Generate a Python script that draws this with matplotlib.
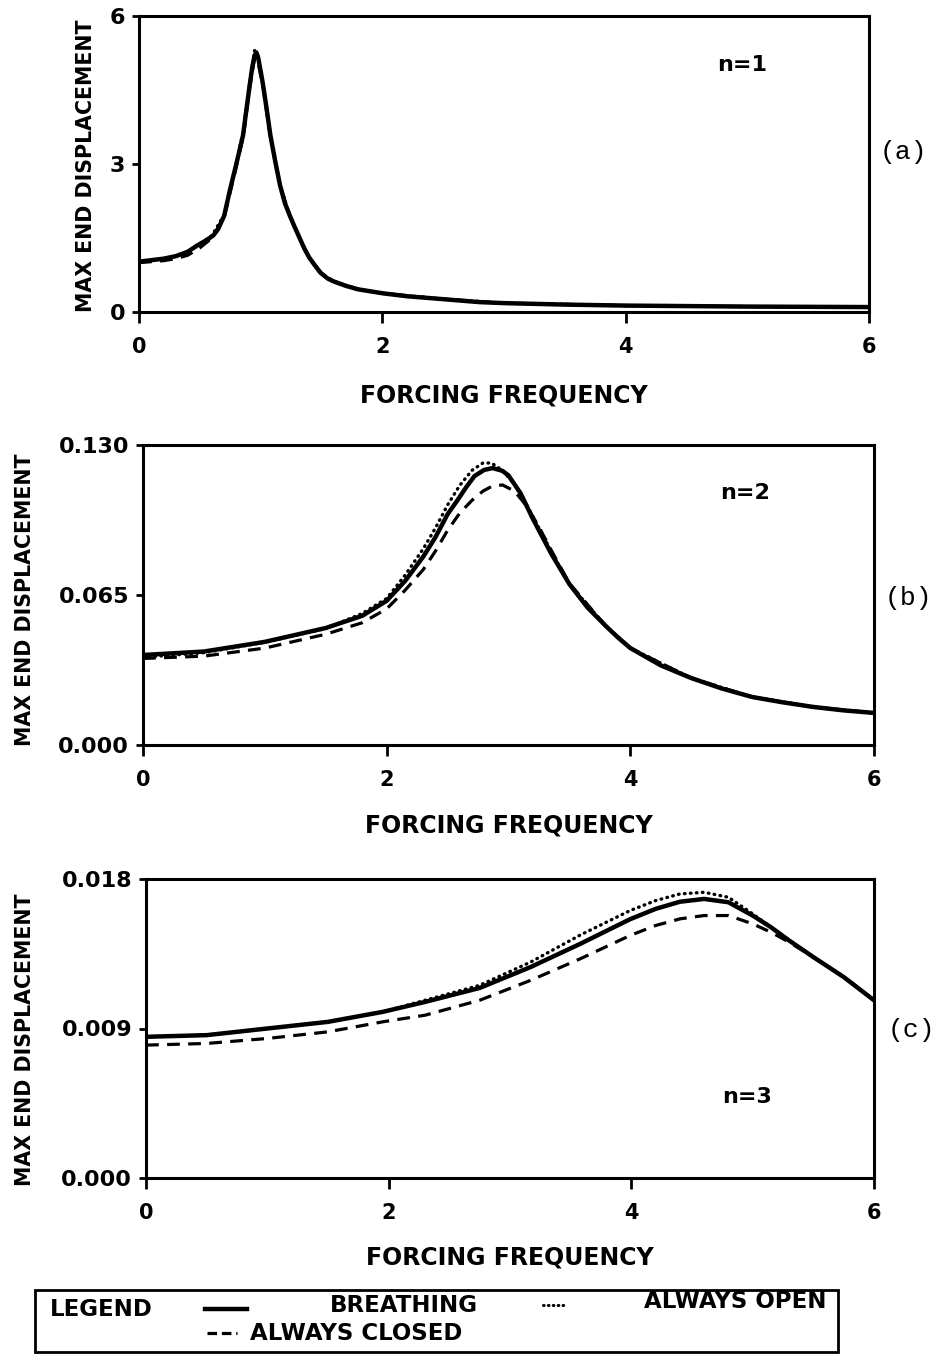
import matplotlib
matplotlib.use("Agg")
import matplotlib.pyplot as plt
from matplotlib.lines import Line2D
from matplotlib.patches import Rectangle

# values
# (a) n=1
freq_a = [0, 0.1, 0.2, 0.3, 0.4, 0.48, 0.55, 0.61, 0.65, 0.7, 0.75, 0.8, 0.855, 0.88, 0.91,
          0.93, 0.95, 0.965, 0.98, 1.0, 1.02, 1.05, 1.08, 1.12, 1.16, 1.2, 1.24, 1.28, 1.32,
          1.36, 1.4, 1.45, 1.49, 1.55, 1.6, 1.7, 1.8, 2.0, 2.2, 2.5, 2.8, 3.0, 3.5, 4.0, 5.0, 6.0]
breath_a = [1.02, 1.05, 1.08, 1.13, 1.22, 1.35, 1.45, 1.55, 1.68, 1.95, 2.5, 3.0, 3.58, 4.05,
            4.6, 4.95, 5.2, 5.26, 5.15, 4.88, 4.6, 4.1, 3.58, 3.05, 2.56, 2.2, 1.95, 1.72, 1.5,
            1.28, 1.1, 0.93, 0.8, 0.68, 0.62, 0.53, 0.46, 0.38, 0.32, 0.26, 0.2, 0.18, 0.15,
            0.13, 0.11, 0.1]
freq_a2 = [0, 0.2, 0.3, 0.4, 0.5, 0.6, 0.7, 0.8, 0.86, 0.91, 0.95, 0.98, 1.02, 1.08, 1.16,
           1.24, 1.32, 1.4, 1.5, 1.6, 1.8, 2.0, 2.5, 3.0, 4.0, 5.0, 6.0]
open_a = [1.02, 1.08, 1.13, 1.22, 1.38, 1.55, 1.97, 3.02, 3.7, 4.65, 5.3, 5.18, 4.62, 3.6,
          2.56, 1.95, 1.5, 1.1, 0.78, 0.62, 0.46, 0.38, 0.26, 0.18, 0.13, 0.11, 0.1]
closed_a = [1.0, 1.04, 1.08, 1.15, 1.3, 1.5, 1.92, 2.95, 3.6, 4.55, 5.15, 5.05, 4.55, 3.55,
            2.55, 1.95, 1.5, 1.1, 0.78, 0.62, 0.46, 0.38, 0.26, 0.18, 0.13, 0.11, 0.1]

# (b) n=2
freq_b = [0, 0.5, 1.0, 1.5, 1.8, 2.0, 2.15, 2.3, 2.4, 2.5, 2.58, 2.65, 2.72, 2.8, 2.87, 2.95,
          3.0, 3.1, 3.2, 3.35, 3.5, 3.65, 3.8, 3.9, 4.0, 4.25, 4.5, 4.75, 5.0, 5.25, 5.5, 5.75, 6.0]
breath_b = [0.039, 0.0405, 0.0447, 0.0507, 0.056, 0.0625, 0.071, 0.0816, 0.090, 0.100, 0.106,
            0.1115, 0.1165, 0.1192, 0.120, 0.1188, 0.1168, 0.109, 0.098, 0.083, 0.0697, 0.0595,
            0.0515, 0.0465, 0.042, 0.0345, 0.029, 0.0245, 0.0208, 0.0185, 0.0165, 0.015, 0.0139]
freq_b2 = [0, 0.5, 1.0, 1.5, 1.8, 2.0, 2.15, 2.3, 2.4, 2.5, 2.6, 2.7, 2.79, 2.86, 2.95, 3.05,
           3.15, 3.25, 3.35, 3.5, 3.8, 4.0, 4.5, 5.0, 5.5, 6.0]
open_b = [0.038, 0.040, 0.0445, 0.0505, 0.057, 0.0635, 0.0735, 0.085, 0.094, 0.104, 0.1125,
          0.119, 0.1222, 0.1222, 0.119, 0.113, 0.104, 0.094, 0.084, 0.0697, 0.0515, 0.042,
          0.029, 0.0208, 0.0165, 0.0139]
closed_b = [0.0375, 0.0385, 0.042, 0.048, 0.053, 0.059, 0.067, 0.076, 0.084, 0.093, 0.1005,
            0.106, 0.110, 0.112, 0.1127, 0.110, 0.1035, 0.0945, 0.0845, 0.070, 0.0515, 0.042,
            0.029, 0.0208, 0.0165, 0.0139]

# (c) n=3
freq_c = [0, 0.5, 1.0, 1.5, 1.95, 2.3, 2.75, 3.17, 3.58, 3.99, 4.2, 4.4, 4.6, 4.8, 5.0, 5.15,
          5.3, 5.5, 5.75, 6.0]
breath_c = [0.0085, 0.0086, 0.0090, 0.0094, 0.0100, 0.0106, 0.01144, 0.0127, 0.0141, 0.01558,
            0.0162, 0.01663, 0.0168, 0.0166, 0.0158, 0.0151, 0.0143, 0.0133, 0.0121, 0.0107]
open_c = [0.0085, 0.0086, 0.0090, 0.0094, 0.0100, 0.0107, 0.0116, 0.0130, 0.01463, 0.0161,
          0.0167, 0.0171, 0.0172, 0.0169, 0.0159, 0.0151, 0.0143, 0.0133, 0.0121, 0.0107]
closed_c = [0.0080, 0.0081, 0.0084, 0.0088, 0.0094, 0.0098, 0.0107, 0.0119, 0.0132, 0.0146,
            0.0152, 0.0156, 0.0158, 0.0158, 0.0153, 0.0148, 0.0142, 0.0133, 0.0121, 0.0107]

xticks = [0, 2, 4, 6]
yticks_a = [0, 3, 6]
yticks_b = [0.0, 0.065, 0.130]
yticks_c = [0.0, 0.009, 0.018]
ylabels_a = ["0", "3", "6"]
ylabels_b = ["0.000", "0.065", "0.130"]
ylabels_c = ["0.000", "0.009", "0.018"]

W, H = 940, 1361
fig = plt.figure(figsize=(W / 100, H / 100), dpi=100)
fig.patch.set_facecolor("white")

def px_axes(left, top, right, bottom):
    return fig.add_axes([left / W, 1 - bottom / H, (right - left) / W, (bottom - top) / H])

panels = [
    (px_axes(139, 16, 869, 312), freq_a, breath_a, freq_a2, open_a, closed_a, 6, yticks_a,
     ylabels_a, "n=1", 4.75, 5.0, "(a)", 880, 152, 86, 166, 395),
    (px_axes(143, 445, 874, 745), freq_b, breath_b, freq_b2, open_b, closed_b, 0.130, yticks_b,
     ylabels_b, "n=2", 4.74, 0.109, "(b)", 885, 598, 25, 600, 825),
    (px_axes(146, 879, 874, 1178), freq_c, breath_c, freq_c, open_c, closed_c, 0.018, yticks_c,
     ylabels_c, "n=3", 4.75, 0.0049, "(c)", 888, 1030, 25, 1040, 1257),
]

bold = dict(family="DejaVu Sans", weight="bold")

for (ax, fx, yb, fx2, yo, yc, ymax, yt, ytl, ntxt, nx, ny, tag, tx, ty,
     ylx, yly, xly) in panels:
    ax.plot(fx2, yc, color="black", lw=2.3, linestyle=(0, (4, 2.6)))
    ax.plot(fx2, yo, color="black", lw=2.4, linestyle=(0, (0.2, 1.6)),
            dash_capstyle="round")
    ax.plot(fx, yb, color="black", lw=3.2, solid_capstyle="round",
            solid_joinstyle="round")
    ax.set_xlim(0, 6)
    ax.set_ylim(0, ymax)
    ax.set_xticks(xticks)
    ax.set_xticklabels([str(v) for v in xticks], fontsize=15, **bold)
    ax.set_yticks(yt)
    ax.set_yticklabels(ytl, fontsize=16, **bold)
    ax.tick_params(axis="x", direction="out", length=8, width=2, pad=10)
    ax.tick_params(axis="y", direction="out", length=5, width=2, pad=5)
    for sp in ax.spines.values():
        sp.set_linewidth(2.2)
    ax.text(nx, ny, ntxt, fontsize=16, ha="left", va="center", **bold)
    fig.text(tx / W, 1 - ty / H, tag, fontsize=19, family="Liberation Mono",
             ha="left", va="center")
    fig.text(ylx / W, 1 - yly / H, "MAX END DISPLACEMENT", rotation=90, fontsize=14.8,
             ha="center", va="center", **bold)
    fig.text(0.5 * (ax.get_position().x0 + ax.get_position().x1), 1 - xly / H,
             "FORCING FREQUENCY", fontsize=17, ha="center", va="center", **bold)

# legend box at the bottom
fig.add_artist(Rectangle((35 / W, 1 - 1352 / H), (838 - 35) / W, (1352 - 1290) / H,
                         transform=fig.transFigure, fill=False, lw=2, edgecolor="black"))

def fig_line(x0, x1, y, **kw):
    fig.add_artist(Line2D([x0 / W, x1 / W], [1 - y / H, 1 - y / H],
                          transform=fig.transFigure, color="black", **kw))

fig.text(50 / W, 1 - 1310 / H, "LEGEND", fontsize=16.5, ha="left", va="center", **bold)
fig_line(205, 247, 1309, lw=3.2)
fig.text(478 / W, 1 - 1306 / H, "BREATHING", fontsize=16.5, ha="right", va="center", **bold)
fig_line(543, 567, 1305, lw=2.2, linestyle=(0, (0.2, 1.4)), dash_capstyle="round")
fig.text(826 / W, 1 - 1301 / H, "ALWAYS OPEN", fontsize=16.5, ha="right", va="center", **bold)
fig_line(207, 237, 1333, lw=2.3, linestyle=(0, (3, 1.5)))
fig.text(250 / W, 1 - 1333 / H, "ALWAYS CLOSED", fontsize=16.5, ha="left", va="center", **bold)

fig.savefig("out.png", dpi=100, facecolor="white")
